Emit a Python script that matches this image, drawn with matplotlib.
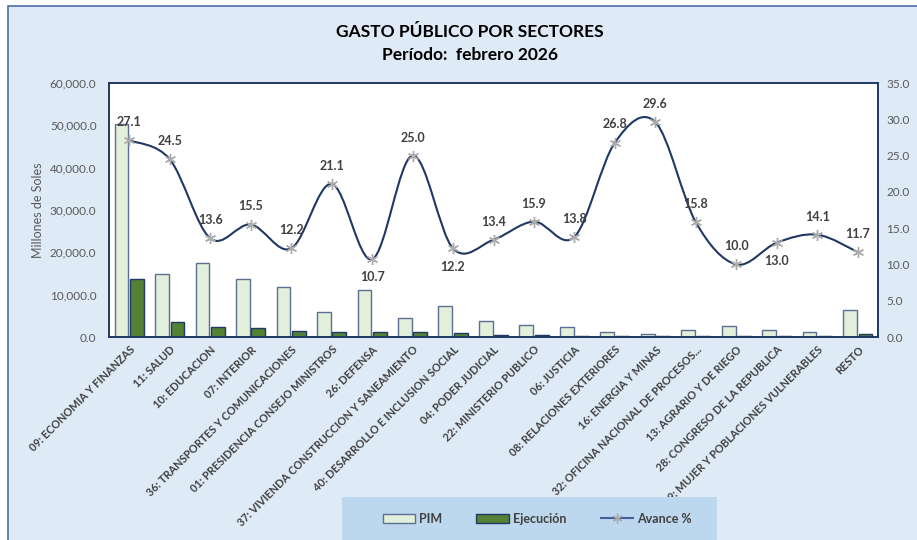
import matplotlib
matplotlib.use("Agg")
import matplotlib.pyplot as plt
import numpy as np
from matplotlib.path import Path
from matplotlib.patches import PathPatch, Rectangle
from matplotlib.lines import Line2D
from matplotlib.ticker import FuncFormatter

plt.rcParams["font.family"] = ["Lato", "DejaVu Sans"]

# datos
SECTORES = [
    "09: ECONOMIA Y FINANZAS", "11: SALUD", "10: EDUCACION", "07: INTERIOR",
    "36: TRANSPORTES Y COMUNICACIONES", "01: PRESIDENCIA CONSEJO MINISTROS",
    "26: DEFENSA", "37: VIVIENDA CONSTRUCCION Y SANEAMIENTO",
    "40: DESARROLLO E INCLUSION SOCIAL", "04: PODER JUDICIAL",
    "22: MINISTERIO PUBLICO", "06: JUSTICIA", "08: RELACIONES EXTERIORES",
    "16: ENERGIA Y MINAS", "32: OFICINA NACIONAL DE PROCESOS...",
    "13: AGRARIO Y DE RIEGO", "28: CONGRESO DE LA REPUBLICA",
    "39: MUJER Y POBLACIONES VULNERABLES", "RESTO",
]
PIM = [50200, 14800, 17400, 13600, 11700, 5900, 11100, 4400, 7300, 3850,
       2830, 2360, 1100, 790, 1570, 2600, 1570, 1100, 6300]
EJECUCION = [13600, 3600, 2350, 2130, 1340, 1100, 1100, 1100, 870, 400,
             400, 160, 160, 150, 150, 150, 150, 150, 630]
AVANCE = [27.1, 24.5, 13.6, 15.5, 12.2, 21.1, 10.7, 25.0, 12.2, 13.4,
          15.9, 13.8, 26.8, 29.6, 15.8, 10.0, 13.0, 14.1, 11.7]
# etiquetas debajo del punto
BELOW = {6, 8, 16}

NAVY = "#1F3864"
BG = "#DEEAF6"
TXT = "#404040"


def smooth_path(xs, ys):
    """Curva suavizada tipo Excel (Bezier cubica, Catmull-Rom)."""
    pts = np.column_stack([xs, ys])
    n = len(pts)
    verts = [pts[0]]
    codes = [Path.MOVETO]
    for i in range(n - 1):
        p0 = pts[max(i - 1, 0)]
        p1 = pts[i]
        p2 = pts[i + 1]
        p3 = pts[min(i + 2, n - 1)]
        verts += [p1 + (p2 - p0) / 6, p2 - (p3 - p1) / 6, p2]
        codes += [Path.CURVE4] * 3
    return Path(verts, codes)


fig = plt.figure(figsize=(9.17, 5.4), dpi=100)
fig.patch.set_facecolor("white")
fig.patches.append(Rectangle((8 / 917, -0.01), 1.0, 1 - 6 / 540 + 0.01,
                             transform=fig.transFigure, facecolor=BG,
                             edgecolor="#4A6FA5", linewidth=1.2, zorder=-10))

ax = fig.add_axes([109 / 917, 1 - 337 / 540, (878 - 109) / 917, (337 - 83) / 540])
ax.set_facecolor("white")
x = np.arange(len(SECTORES))
w = 0.34
ax.bar(x - 0.19, PIM, w, color="#E2EFDA", edgecolor="#5B6F95", linewidth=1.0, label="PIM")
ax.bar(x + 0.19, EJECUCION, w, color="#548235", edgecolor=NAVY, linewidth=1.0, label="Ejecución")
ax.set_xlim(-0.5, len(SECTORES) - 0.5)
ax.set_ylim(0, 60000)
ax.set_yticks(np.arange(0, 60001, 10000))
ax.yaxis.set_major_formatter(FuncFormatter(lambda v, p: f"{v:,.1f}"))
ax.tick_params(axis="y", length=0, labelsize=8.5, labelcolor="#595959", pad=9)
ax.set_ylabel("Millones de Soles", color="#595959", fontsize=9, labelpad=4)
ax.set_xticks(x)
ax.set_xticklabels(SECTORES, rotation=45, ha="right", rotation_mode="anchor",
                   fontsize=7.8, fontweight="bold", color=TXT)
ax.tick_params(axis="x", length=0, pad=5)
for s in ax.spines.values():
    s.set_color(NAVY)
    s.set_linewidth(1.2)

ax2 = ax.twinx()
ax2.set_ylim(0, 35)
ax2.set_yticks(np.arange(0, 35.1, 5))
ax2.yaxis.set_major_formatter(FuncFormatter(lambda v, p: f"{v:.1f}"))
ax2.tick_params(axis="y", length=0, labelsize=8.5, labelcolor="#595959", pad=6)
for s in ax2.spines.values():
    s.set_color(NAVY)
    s.set_linewidth(1.2)

ax2.add_patch(PathPatch(smooth_path(x, AVANCE), facecolor="none",
                        edgecolor=NAVY, linewidth=1.5, zorder=3))
ax2.plot(x, AVANCE, linestyle="none", marker=(6, 2, 0), markersize=8,
         markeredgecolor="#ABABAB", markeredgewidth=1.0, zorder=4)
for i, v in enumerate(AVANCE):
    dy = -13 if i in BELOW else 13
    ax2.annotate(f"{v:.1f}", (x[i], v), xytext=(0, dy), textcoords="offset points",
                 ha="center", va="center", fontsize=9, fontweight="bold", color=TXT, zorder=5)

fig.text(0.512, 0.94, "GASTO PÚBLICO POR SECTORES", ha="center", va="center",
         fontsize=12.5, fontweight="bold", color="black")
fig.text(0.512, 0.898, "Período:  febrero 2026", ha="center", va="center",
         fontsize=12.5, fontweight="bold", color="black")

# leyenda
fig.patches.append(Rectangle((342 / 917, -0.01), (717 - 342) / 917, 43 / 540 + 0.01,
                             transform=fig.transFigure, facecolor="#BDD7EE",
                             edgecolor="none", zorder=4))
handles = [
    Rectangle((0, 0), 1, 1, facecolor="#E2EFDA", edgecolor="#5B6F95"),
    Rectangle((0, 0), 1, 1, facecolor="#548235", edgecolor=NAVY),
    Line2D([], [], color="#44609A", linewidth=1.5, marker=(6, 2, 0),
           markersize=7, markeredgecolor="#ABABAB"),
]
leg = fig.legend(handles, ["PIM", "Ejecución", "Avance %"], loc="center",
                 bbox_to_anchor=(537 / 917, 1 - 519 / 540), ncol=3, frameon=False,
                 prop={"weight": "bold", "size": 9}, handlelength=2.6,
                 handleheight=0.8, columnspacing=2.75, handletextpad=0.3)
leg.set_zorder(6)
for t in leg.get_texts():
    t.set_color(TXT)

fig.savefig("out.png", dpi=100)
